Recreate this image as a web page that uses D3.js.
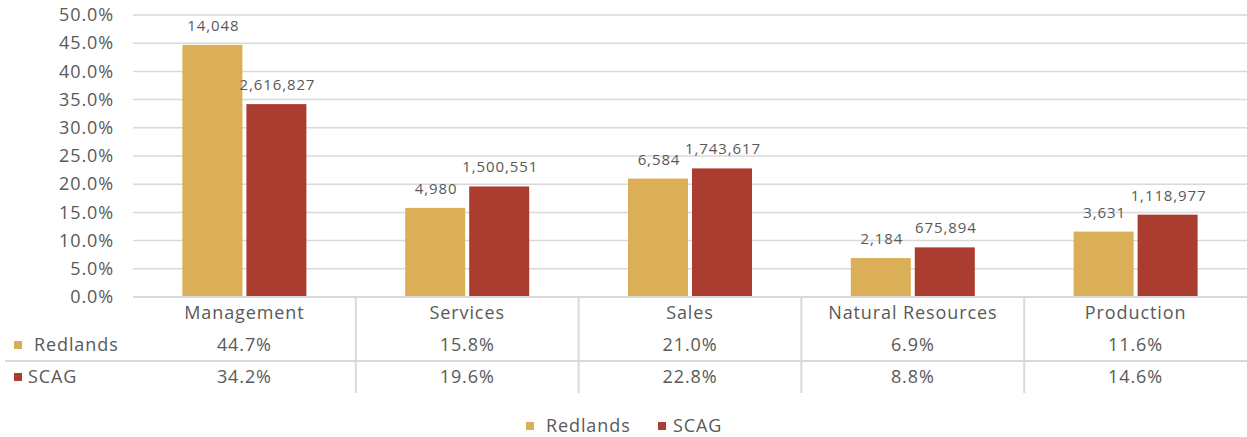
<!DOCTYPE html>
<html><head><meta charset="utf-8">
<script src="https://cdn.jsdelivr.net/npm/d3@7"></script>
<style>
body{margin:0;background:#fff;}
text{font-family:"Open Sans","DejaVu Sans",sans-serif;fill:#595959;}
</style></head>
<body><svg id="c" width="1247" height="437"></svg>
<script>
const categories = ["Management","Services","Sales","Natural Resources","Production"];
const seriesNames = ["Redlands","SCAG"];
const redlandsPct = [44.7,15.8,21.0,6.9,11.6];
const scagPct = [34.2,19.6,22.8,8.8,14.6];
const redlandsCount = [14048,4980,6584,2184,3631];
const scagCount = [2616827,1500551,1743617,675894,1118977];
const yTicks = [0,5,10,15,20,25,30,35,40,45,50];
const colors = ["#DBAE58","#AB3C30"];

const pct = [redlandsPct, scagPct];
const counts = [redlandsCount, scagCount];

const svg = d3.select("#c");
const mLeft = 133, mRight = 1247, mTop = 15, mBottom = 297;
const x = d3.scaleBand().domain(categories).range([mLeft,mRight]).paddingInner(0).paddingOuter(0);
const y = d3.scaleLinear().domain([0,50]).range([mBottom,mTop]);
const barW = 60, gap = 4;
const FS = "18px", LS = "0.9px";

// gridlines
svg.append("g").selectAll("line").data(yTicks).join("line")
  .attr("x1",mLeft).attr("x2",mRight)
  .attr("y1",d=>y(d)).attr("y2",d=>y(d))
  .attr("stroke","#d9d9d9").attr("stroke-width",1.5);

// y axis labels
const yAxis = d3.axisLeft(y).tickValues(yTicks).tickFormat(d=>d.toFixed(1)+"%").tickSize(0).tickPadding(0);
const ya = svg.append("g").attr("transform",`translate(114,0)`).call(yAxis);
ya.select(".domain").remove();
ya.selectAll("text").style("font-family",'"Open Sans","DejaVu Sans",sans-serif').style("font-size",FS)
  .style("letter-spacing",LS).attr("fill","#595959");

// bars
seriesNames.forEach((s,si)=>{
  const g = svg.append("g");
  g.selectAll("rect").data(categories).join("rect")
    .attr("x",(d)=>x(d)+x.bandwidth()/2 - barW - gap/2 + si*(barW+gap))
    .attr("width",barW)
    .attr("y",(d,i)=>y(pct[si][i]))
    .attr("height",(d,i)=>mBottom - y(pct[si][i]))
    .attr("fill",colors[si]);
  g.selectAll("text").data(categories).join("text")
    .attr("x",(d)=>x(d)+x.bandwidth()/2 - barW/2 - gap/2 + si*(barW+gap) + 1)
    .attr("y",(d,i)=>y(pct[si][i]) - 14)
    .attr("text-anchor","middle")
    .style("font-size","15px").style("letter-spacing",LS)
    .text((d,i)=>d3.format(",")(counts[si][i]));
});

// data table
const tableRight = 1247;
const rowTop = mBottom, rowH = 32;
svg.append("line").attr("x1",mLeft).attr("x2",tableRight).attr("y1",mBottom).attr("y2",mBottom)
  .attr("stroke","#d9d9d9").attr("stroke-width",2);
svg.append("line").attr("x1",5).attr("x2",tableRight).attr("y1",rowTop+2*rowH).attr("y2",rowTop+2*rowH)
  .attr("stroke","#d9d9d9").attr("stroke-width",2);
svg.append("g").selectAll("line").data(categories.slice(1)).join("line")
  .attr("x1",d=>x(d)).attr("x2",d=>x(d))
  .attr("y1",mBottom).attr("y2",rowTop+3*rowH)
  .attr("stroke","#d9d9d9").attr("stroke-width",2);

svg.append("g").selectAll("text").data(categories).join("text")
  .attr("x",d=>x(d)+x.bandwidth()/2).attr("y",rowTop+rowH/2)
  .attr("dy","0.35em").attr("text-anchor","middle").style("font-size",FS).style("letter-spacing",LS).text(d=>d);

seriesNames.forEach((s,si)=>{
  const cy = rowTop + rowH*(si+1) + rowH/2;
  svg.append("g").selectAll("text").data(categories).join("text")
    .attr("x",d=>x(d)+x.bandwidth()/2).attr("y",cy)
    .attr("dy","0.35em").attr("text-anchor","middle").style("font-size",FS).style("letter-spacing",LS)
    .text((d,i)=>pct[si][i].toFixed(1)+"%");
  svg.append("rect").attr("x",14).attr("y",cy-4).attr("width",8).attr("height",8).attr("fill",colors[si]);
  svg.append("text").attr("x",si===0?34:28).attr("y",cy).attr("dy","0.35em").style("font-size",FS).style("letter-spacing",LS).text(s);
});

// bottom legend
const legX = [526,658];
seriesNames.forEach((s,si)=>{
  svg.append("rect").attr("x",legX[si]).attr("y",422).attr("width",8).attr("height",8).attr("fill",colors[si]);
  svg.append("text").attr("x",legX[si]+(si===0?20:15)).attr("y",426).attr("dy","0.35em").style("font-size",FS).style("letter-spacing",LS).text(s);
});
</script></body></html>
